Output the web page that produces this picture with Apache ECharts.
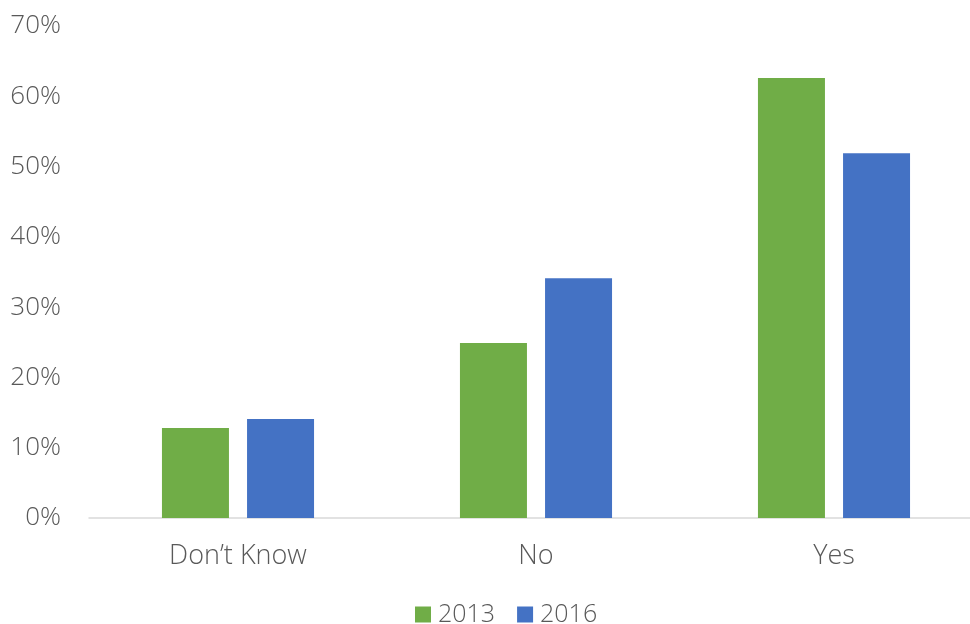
<!DOCTYPE html>
<html>
<head>
<meta charset="utf-8">
<script src="https://cdn.jsdelivr.net/npm/echarts@6/dist/echarts.min.js"></script>
<style>
html, body { margin: 0; padding: 0; background: #fff; }
#chart { width: 970px; height: 624px; }
</style>
</head>
<body>
<div id="chart"></div>
<script>
// Survey answers by year (percent of respondents)
const categories = ['Don\u2019t Know', 'No', 'Yes'];
const seriesNames = ['2013', '2016'];
const values2013 = [12.8, 24.9, 62.6];
const values2016 = [14.1, 34.1, 51.9];
const seriesColors = ['#70AD47', '#4472C4'];

const textColor = '#595959';
const fontFamily = '"Open Sans", "Noto Sans", sans-serif';

const chart = echarts.init(document.getElementById('chart'));
chart.setOption({
  animation: false,
  grid: { left: 89, width: 894, top: 26, bottom: 106, outerBoundsMode: 'none' },
  legend: {
    bottom: -8,
    left: 410,
    itemWidth: 16,
    itemHeight: 16,
    itemGap: 22,
    icon: 'rect',
    textStyle: {
      color: textColor, fontSize: 25, fontFamily: fontFamily, fontWeight: 300,
      padding: [0, 0, 0, 2]
    },
    data: seriesNames
  },
  xAxis: {
    type: 'category',
    data: categories,
    axisLine: { lineStyle: { color: '#D9D9D9', width: 1.5 } },
    axisTick: { show: false },
    axisLabel: { color: textColor, fontSize: 27, fontFamily: fontFamily, fontWeight: 300, margin: 25 }
  },
  yAxis: {
    type: 'value',
    min: 0,
    max: 70,
    interval: 10,
    splitLine: { show: false },
    axisLine: { show: false },
    axisTick: { show: false },
    axisLabel: {
      color: textColor, fontSize: 26, fontFamily: fontFamily, fontWeight: 300, margin: 28,
      formatter: v => v + '%'
    }
  },
  series: [
    {
      name: seriesNames[0], type: 'bar', data: values2013,
      barWidth: 67, barGap: '27%',
      itemStyle: { color: seriesColors[0] }
    },
    {
      name: seriesNames[1], type: 'bar', data: values2016,
      barWidth: 67, barGap: '27%',
      itemStyle: { color: seriesColors[1] }
    }
  ]
});
</script>
</body>
</html>
